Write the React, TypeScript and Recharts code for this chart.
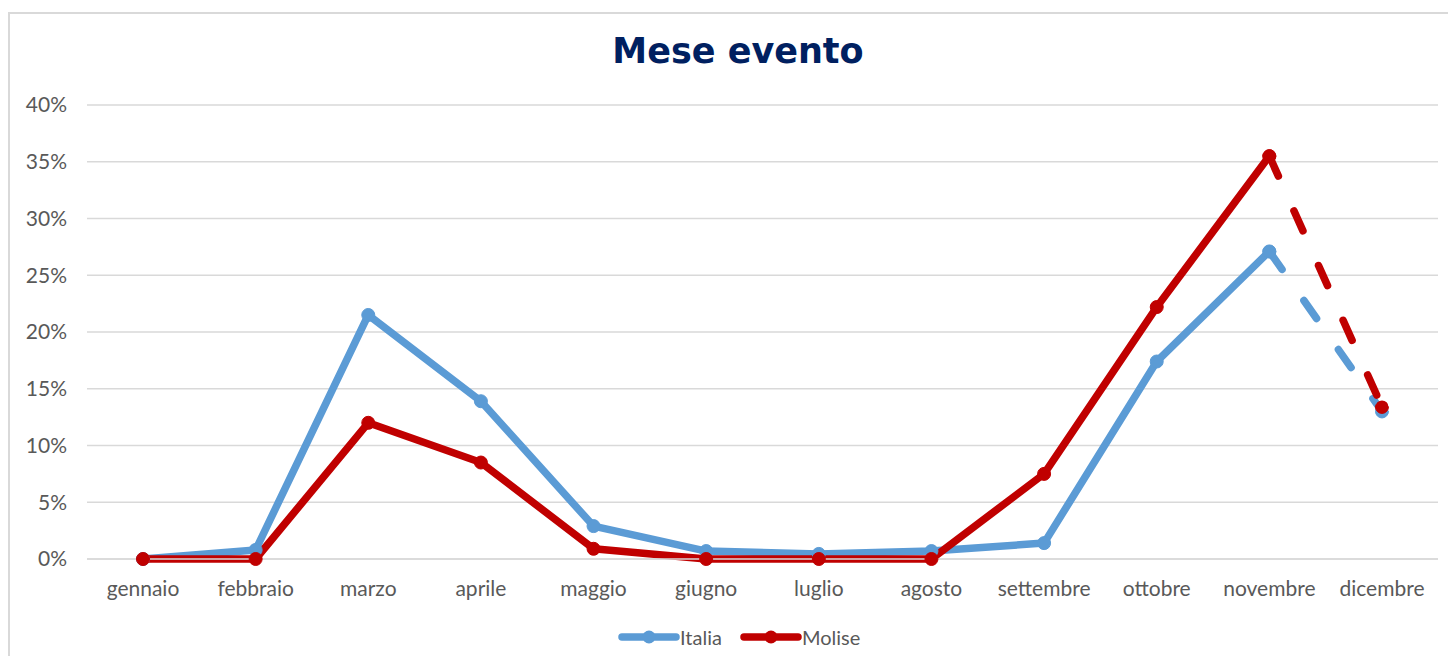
import { LineChart, Line, XAxis, YAxis, CartesianGrid } from "recharts";

const months = [
  "gennaio",
  "febbraio",
  "marzo",
  "aprile",
  "maggio",
  "giugno",
  "luglio",
  "agosto",
  "settembre",
  "ottobre",
  "novembre",
  "dicembre",
];

// percentuali
const italia = [0, 0.8, 21.5, 13.9, 2.9, 0.7, 0.45, 0.7, 1.4, 17.4, 27.1, 13.0];
const molise = [0, 0, 12.0, 8.5, 0.9, 0, 0, 0, 7.5, 22.2, 35.5, 13.4];

const yTicks = [0, 5, 10, 15, 20, 25, 30, 35, 40];

// ultimo mese con linea continua, dopo si tratteggia
const lastSolid = 10;

const BLUE = "#5B9BD5";
const RED = "#C00000";
const TEXT = "#595959";
const FONT = "Lato, 'Open Sans', sans-serif";

const data = months.map((m, i) => ({
  month: m,
  italia: i <= lastSolid ? italia[i] : null,
  italiaDash: i >= lastSolid ? italia[i] : null,
  molise: i <= lastSolid ? molise[i] : null,
  moliseDash: i >= lastSolid ? molise[i] : null,
}));

function LegendItem({ color, label }: { color: string; label: string }) {
  return (
    <div style={{ display: "flex", alignItems: "center", marginRight: 18 }}>
      <svg width={62} height={16}>
        <line x1={4} y1={8} x2={58} y2={8} stroke={color} strokeWidth={7.5} strokeLinecap="round" />
        <circle cx={31} cy={8} r={6.5} fill={color} />
      </svg>
      <span style={{ fontSize: 20, color: TEXT, marginLeft: 0 }}>{label}</span>
    </div>
  );
}

export default function App() {
  return (
    <div style={{ height: 648, width: 1448, overflow: "hidden", paddingTop: 4, boxSizing: "border-box" }}>
      <div
        style={{
          position: "relative",
          width: 1442,
          height: 670,
          border: "2px solid #d9d9d9",
          fontFamily: FONT,
          background: "#fff",
        }}
      >
        <div
          style={{
            position: "absolute",
            top: 20,
            left: 0,
            width: 1442,
            paddingLeft: 14,
            boxSizing: "border-box",
            textAlign: "center",
            fontFamily: "'DejaVu Sans', Verdana, sans-serif",
            fontWeight: "bold",
            fontSize: 35,
            lineHeight: "35px",
            color: "#002060",
          }}
        >
          Mese evento
        </div>
        <LineChart
          width={1442}
          height={620}
          data={data}
          margin={{ top: 91, right: 14, bottom: 25, left: 17 }}
        >
          <CartesianGrid vertical={false} stroke="#d9d9d9" strokeWidth={1.5} />
          <XAxis
            dataKey="month"
            axisLine={{ stroke: "#d9d9d9", strokeWidth: 1.5 }}
            tickLine={false}
            tickSize={0}
            tickMargin={22}
            height={50}
            interval={0}
            padding={{ left: 56, right: 56 }}
            tick={{ fill: TEXT, fontSize: 21, fontFamily: FONT }}
          />
          <YAxis
            domain={[0, 40]}
            ticks={yTicks}
            tickFormatter={(v: number) => `${v}%`}
            axisLine={false}
            tickLine={false}
            tickSize={0}
            tickMargin={20}
            width={60}
            tick={{ fill: TEXT, fontSize: 21, fontFamily: FONT }}
          />
          <Line
            dataKey="italia"
            stroke={BLUE}
            strokeWidth={7.5}
            strokeLinejoin="round"
            dot={{ r: 6.5, fill: BLUE, stroke: BLUE, strokeWidth: 1 }}
            activeDot={false}
            isAnimationActive={false}
          />
          <Line
            dataKey="italiaDash"
            stroke={BLUE}
            strokeWidth={7.5}
            strokeDasharray="22 38"
            strokeLinecap="round"
            dot={{ r: 6.5, fill: BLUE, stroke: BLUE, strokeWidth: 1 }}
            activeDot={false}
            legendType="none"
            isAnimationActive={false}
          />
          <Line
            dataKey="molise"
            stroke={RED}
            strokeWidth={7.5}
            strokeLinejoin="round"
            dot={{ r: 6.5, fill: RED, stroke: RED, strokeWidth: 1 }}
            activeDot={false}
            isAnimationActive={false}
          />
          <Line
            dataKey="moliseDash"
            stroke={RED}
            strokeWidth={7.5}
            strokeDasharray="22 38"
            strokeLinecap="round"
            dot={{ r: 6.5, fill: RED, stroke: RED, strokeWidth: 1 }}
            activeDot={false}
            legendType="none"
            isAnimationActive={false}
          />
        </LineChart>
        <div
          style={{
            position: "absolute",
            top: 611,
            left: 608,
            display: "flex",
            alignItems: "center",
          }}
        >
          <LegendItem color={BLUE} label="Italia" />
          <LegendItem color={RED} label="Molise" />
        </div>
      </div>
    </div>
  );
}
